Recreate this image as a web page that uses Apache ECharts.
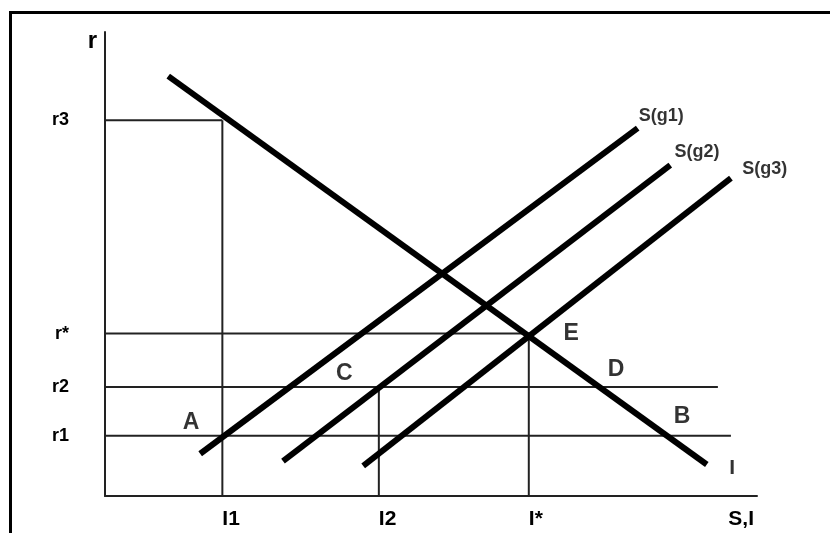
<!DOCTYPE html>
<html>
<head>
<meta charset="utf-8">
<script src="https://cdn.jsdelivr.net/npm/echarts@6/dist/echarts.min.js"></script>
<style>
    html, body { margin: 0; padding: 0; background: #fff; }
    #main { width: 830px; height: 533px; }
    #frame {
        position: absolute; left: 9px; top: 11px; right: 0; bottom: 0;
        border-left: 3px solid #000; border-top: 3px solid #000;
        pointer-events: none;
    }
</style>
</head>
<body>
<div id="main"></div>
<div id="frame"></div>
<script>
// axis labels (axes 0..100)
var yTickLabels = ['r1', 'r2', 'r*', 'r3'];
var yTickValues = [13, 23.5, 35, 81];
var xTickLabels = ['I1', 'I2', 'I*', 'S,I'];
var xTickValues = [18, 42, 65, 95.6];

// guide lines: horizontal right ends (per r level), vertical tops (per I level)
var hGuideEnds = [96, 94, 65, 18];
var vGuideX = [18, 42, 65];
var vGuideTops = [81, 23.5, 35];

// curves
var curveI = [[9.7, 90.5], [92.3, 6.8]];
var curveS1 = [[14.6, 9.1], [81.7, 79.3]];
var curveS2 = [[27.3, 7.5], [86.7, 71.3]];
var curveS3 = [[39.6, 6.5], [96.0, 68.5]];

// point labels
var pointNames = ['A', 'C', 'E', 'D', 'B'];
var pointPos = [[13.2, 15.7], [36.7, 26.3], [71.5, 34.9], [78.4, 27.2], [88.5, 17.2]];
var curveNames = ['S(g1)', 'S(g2)', 'S(g3)'];
var curveNamePos = [[85.3, 81.9], [90.8, 74.1], [101.2, 70.5]];
var demandName = ['I'];
var demandNamePos = [[96.2, 6.0]];

var myChart = echarts.init(document.getElementById('main'));
var series = [];

// thin guides
yTickValues.forEach(function (v, i) {
    series.push({
        type: 'line', symbol: 'none', silent: true,
        lineStyle: { color: '#222', width: 2 },
        data: [[0, v], [hGuideEnds[i], v]]
    });
});
vGuideX.forEach(function (x, i) {
    series.push({
        type: 'line', symbol: 'none', silent: true,
        lineStyle: { color: '#222', width: 2 },
        data: [[x, 0], [x, vGuideTops[i]]]
    });
});

// thick curves
[curveI, curveS1, curveS2, curveS3].forEach(function (c) {
    series.push({
        type: 'line', symbol: 'none', silent: true,
        lineStyle: { color: '#000', width: 6 },
        data: c
    });
});

function textSeries(names, pos, size) {
    return {
        type: 'scatter', symbolSize: 0, clip: false, silent: true,
        label: {
            show: true, position: 'inside',
            color: '#000', fontWeight: 'bold', fontSize: size,
            fontFamily: 'Liberation Sans',
            formatter: function (p) { return names[p.dataIndex]; }
        },
        data: pos
    };
}
series.push(textSeries(pointNames, pointPos, 23));
series.push(textSeries(curveNames, curveNamePos, 18));
series.push(textSeries(demandName, demandNamePos, 21));

var option = {
    animation: false,
    grid: { left: 105, right: 73, top: 32, bottom: 37 },
    xAxis: {
        type: 'value', min: 0, max: 100,
        splitLine: { show: false },
        axisTick: { show: false },
        axisLine: { lineStyle: { color: '#222', width: 2 } },
        axisLabel: {
            customValues: xTickValues,
            align: 'left', margin: 13,
            color: '#000', fontWeight: 'bold', fontSize: 21,
            fontFamily: 'Liberation Sans',
            formatter: function (v) { return xTickLabels[xTickValues.indexOf(v)]; }
        }
    },
    yAxis: {
        type: 'value', min: 0, max: 100,
        name: 'r', nameLocation: 'end', nameGap: -9,
        nameTextStyle: {
            align: 'right', verticalAlign: 'middle', padding: [0, 8, 0, 0],
            color: '#000', fontWeight: 'bold', fontSize: 24,
            fontFamily: 'Liberation Sans'
        },
        splitLine: { show: false },
        axisTick: { show: false },
        axisLine: { lineStyle: { color: '#222', width: 2 } },
        axisLabel: {
            customValues: yTickValues,
            margin: 36,
            color: '#000', fontWeight: 'bold', fontSize: 18,
            fontFamily: 'Liberation Sans',
            formatter: function (v) { return yTickLabels[yTickValues.indexOf(v)]; }
        }
    },
    series: series
};
myChart.setOption(option);
</script>
</body>
</html>
